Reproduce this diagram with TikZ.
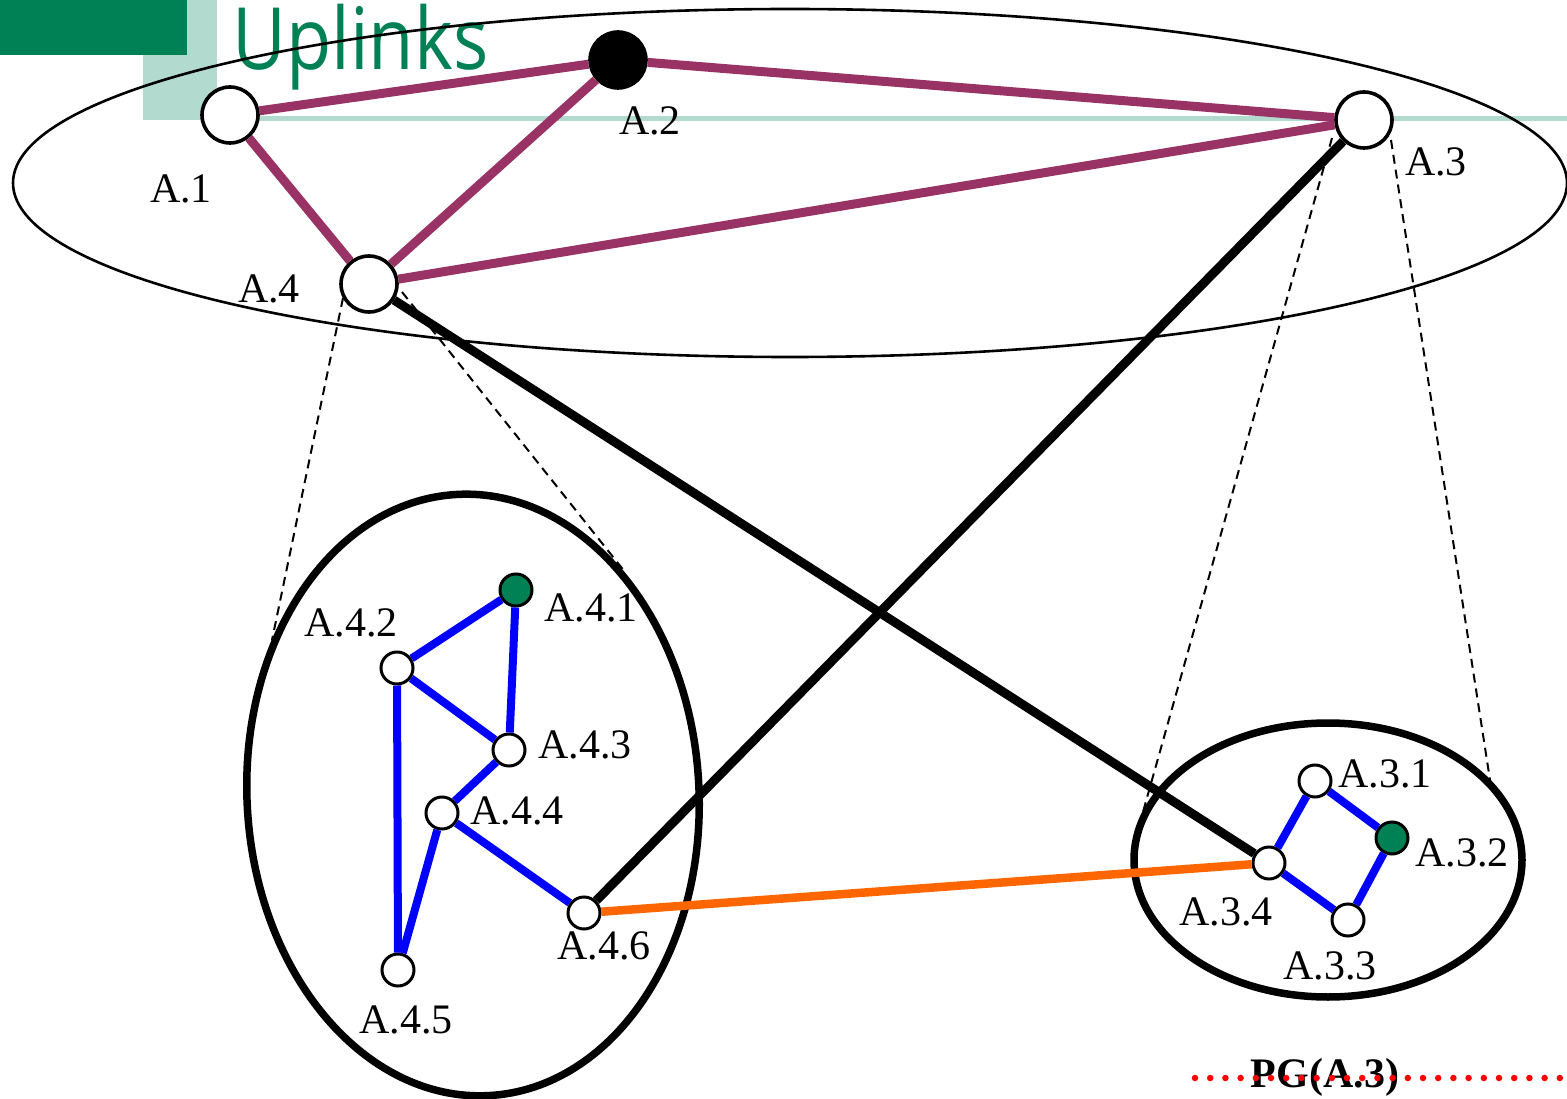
\documentclass[tikz,border=0pt]{standalone}
\usepackage{fontspec}
\usetikzlibrary{shapes.geometric}
\setmainfont{Liberation Serif}
\newfontfamily\uplinkfont{Open Sans}
\definecolor{dgreen}{RGB}{0,128,85}
\definecolor{lgreen}{RGB}{179,218,206}
\definecolor{purp}{RGB}{153,51,102}
\definecolor{orng}{RGB}{255,102,0}
\begin{document}
\begin{tikzpicture}[x=1pt,y=-1pt,
  bignode/.style={circle,draw=black,line width=3.6pt,fill=white,minimum size=56pt,inner sep=0pt},
  smallnode/.style={circle,draw=black,line width=3pt,fill=white,minimum size=32pt,inner sep=0pt},
  lbl/.style={font=\fontsize{42}{46}\selectfont,inner sep=0pt},
  pedge/.style={draw=purp,line width=9pt},
  bedge/.style={draw=blue,line width=8pt},
  kedge/.style={draw=black,line width=9pt},
  dline/.style={draw=black,line width=2pt,dash pattern=on 9pt off 6pt}]
\useasboundingbox (0,0) rectangle (1567,1099);
% header
\fill[lgreen] (143,0) rectangle (217,120);
\fill[lgreen] (217,116.5) rectangle (1567,121.5);
\fill[dgreen] (0,0) rectangle (187,55);
\node[anchor=base west,inner sep=0pt,text=dgreen,font=\uplinkfont\fontsize{86}{90}\selectfont,xscale=0.86] (title) at (232,70) {Uplinks};
% ellipses
\node[draw=black,line width=2.6pt,ellipse,minimum width=1554pt,minimum height=348pt,inner sep=0pt] (bigell) at (790,183) {};
\draw[black,line width=7.5pt,rotate around={3:(473,795)}] (473,795) ellipse [x radius=226, y radius=301];
\draw[black,line width=7.5pt] (1328,860) ellipse [x radius=194, y radius=137];
% dashed projection lines
\coordinate (d1a) at (343,298); \coordinate (d1b) at (272,640);
\coordinate (d2a) at (402,292); \coordinate (d2b) at (625,572);
\coordinate (d3a) at (1332,138); \coordinate (d3b) at (1143,812);
\coordinate (d4a) at (1391,140); \coordinate (d4b) at (1490,780);
\draw[dline] (d1a) -- (d1b);
\draw[dline] (d2a) -- (d2b);
\draw[dline] (d3a) -- (d3b);
\draw[dline] (d4a) -- (d4b);
% top nodes
\node[bignode] (A1) at (230,115) {};
\node[bignode,fill=black] (A2) at (618,60) {};
\node[bignode] (A3) at (1364,120) {};
\node[bignode] (A4) at (369,284) {};
% lower-left nodes
\node[smallnode,fill=dgreen] (A41) at (516,590) {};
\node[smallnode] (A42) at (397,668) {};
\node[smallnode] (A43) at (509,750) {};
\node[smallnode] (A44) at (442,813) {};
\node[smallnode] (A45) at (398,970) {};
\node[smallnode] (A46) at (584,913) {};
% lower-right nodes
\node[smallnode] (A31) at (1315,781) {};
\node[smallnode,fill=dgreen] (A32) at (1392,838) {};
\node[smallnode] (A33) at (1348,920) {};
\node[smallnode] (A34) at (1269,863) {};
% edges
\path[pedge] (A1) -- (A2);
\path[pedge] (A2) -- (A3);
\path[pedge] (A1) -- (A4);
\path[pedge] (A2) -- (A4);
\path[pedge] (A4) -- (A3);
\path[kedge] (A4) -- (A34);
\path[kedge] (A3) -- (A46);
\path[bedge] (A42) -- (A41);
\path[bedge] (A41) -- (A43);
\path[bedge] (A42) -- (A43);
\path[bedge] (A43) -- (A44);
\path[bedge] (A42) -- (A45);
\path[bedge] (A44) -- (A45);
\path[bedge] (A44) -- (A46);
\path[bedge] (A34) -- (A31);
\path[bedge] (A31) -- (A32);
\path[bedge] (A32) -- (A33);
\path[bedge] (A33) -- (A34);
\path[draw=orng,line width=8.5pt] (A46) -- (A34);
% labels
\node[lbl] (lA1) at (181,189) {A.1};
\node[lbl] (lA2) at (650,121) {A.2};
\node[lbl] (lA3) at (1436,162) {A.3};
\node[lbl] (lA4) at (269,289) {A.4};
\node[lbl] (lA41) at (591,608) {A.4.1};
\node[lbl] (lA42) at (351,623) {A.4.2};
\node[lbl] (lA43) at (585,745) {A.4.3};
\node[lbl] (lA44) at (517,811) {A.4.4};
\node[lbl] (lA45) at (406,1020) {A.4.5};
\node[lbl] (lA46) at (604,946) {A.4.6};
\node[lbl] (lA31) at (1385,774) {A.3.1};
\node[lbl] (lA32) at (1462,853) {A.3.2};
\node[lbl] (lA33) at (1330,966) {A.3.3};
\node[lbl] (lA34) at (1226,912) {A.3.4};
% PG label
\node[lbl,font=\bfseries\fontsize{42}{46}\selectfont] (pg) at (1325,1077) {PG(A.3)};
\coordinate (pgl) at (1195,1078);
\coordinate (pgr) at (1567,1078);
\draw[red,line width=6.5pt,line cap=round,dash pattern=on 0pt off 15.2pt] (pgl) -- (pgr);
\end{tikzpicture}
\end{document}
